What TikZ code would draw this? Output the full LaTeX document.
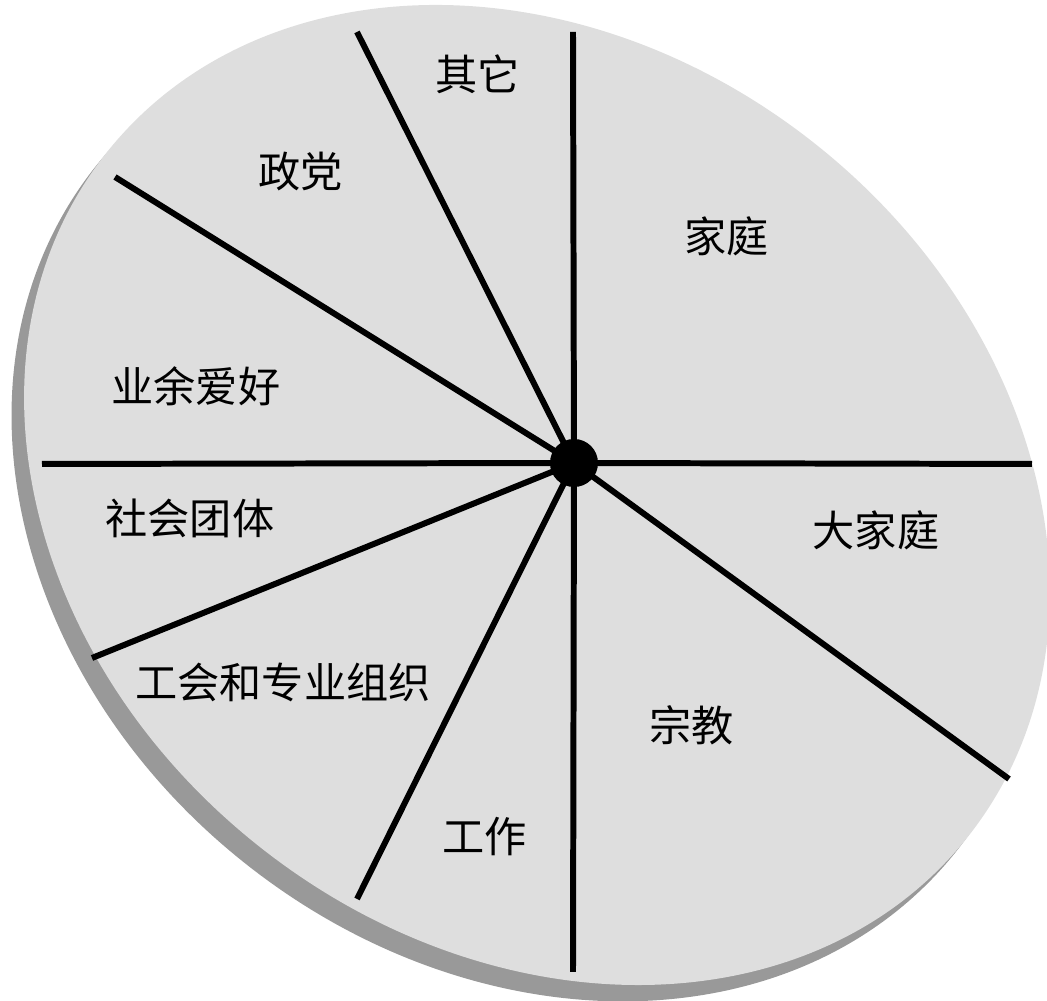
\documentclass[tikz,border=0pt]{standalone}
\usepackage{fontspec}
\newfontfamily\cjk{Noto Sans CJK SC}
\usetikzlibrary{backgrounds}
\pgfdeclarelayer{edgelayer}
\pgfdeclarelayer{nodelayer}
\pgfsetlayers{background,edgelayer,nodelayer,main}
\tikzstyle{none}=[inner sep=0mm]
\tikzstyle{black dot}=[inner sep=0mm,minimum size=0.48cm,fill=black,draw=none,shape=circle]
\tikzstyle{sector}=[inner sep=0mm,font=\cjk\fontsize{12}{14}\selectfont]
\tikzstyle{spoke}=[line width=1.7pt]
\tikzstyle{face}=[fill=black!13]
\tikzstyle{rim}=[fill=black!40]

\begin{document}
\begin{tikzpicture}[x=0.01cm,y=-0.01cm]
	\useasboundingbox (0,0) rectangle (1047,1001);
	\begin{pgfonlayer}{background}
		% rim, then top of the disc
		\fill [style=rim, rotate around={-38.5:(525.8,509.1)}] (525.8,509.1) ellipse (550 and 452);
		\fill [style=face, rotate around={-38.5:(537,495)}] (537,495) ellipse (550 and 448);
	\end{pgfonlayer}
	\begin{pgfonlayer}{nodelayer}
		\node [style=black dot] (0) at (574, 463) {};
		\node [style=none] (1) at (573, 32) {};
		\node [style=none] (2) at (1032, 464) {};
		\node [style=none] (3) at (1009, 779) {};
		\node [style=none] (4) at (573, 972) {};
		\node [style=none] (5) at (357, 899) {};
		\node [style=none] (6) at (92, 658) {};
		\node [style=none] (7) at (42, 464) {};
		\node [style=none] (8) at (115, 177) {};
		\node [style=none] (9) at (357, 32) {};
		\node [style=sector] (10) at (478, 74) {其它};
		\node [style=sector] (11) at (301, 172) {政党};
		\node [style=sector] (12) at (727, 236) {家庭};
		\node [style=sector] (13) at (196, 386) {业余爱好};
		\node [style=sector] (14) at (876, 530) {大家庭};
		\node [style=sector] (15) at (190, 518) {社会团体};
		\node [style=sector] (16) at (283, 682) {工会和专业组织};
		\node [style=sector] (17) at (692, 725) {宗教};
		\node [style=sector] (18) at (485, 837) {工作};
	\end{pgfonlayer}
	\begin{pgfonlayer}{edgelayer}
		\foreach \n in {1,...,9}
			\draw [style=spoke] (0.center) to (\n.center);
	\end{pgfonlayer}
\end{tikzpicture}
\end{document}
